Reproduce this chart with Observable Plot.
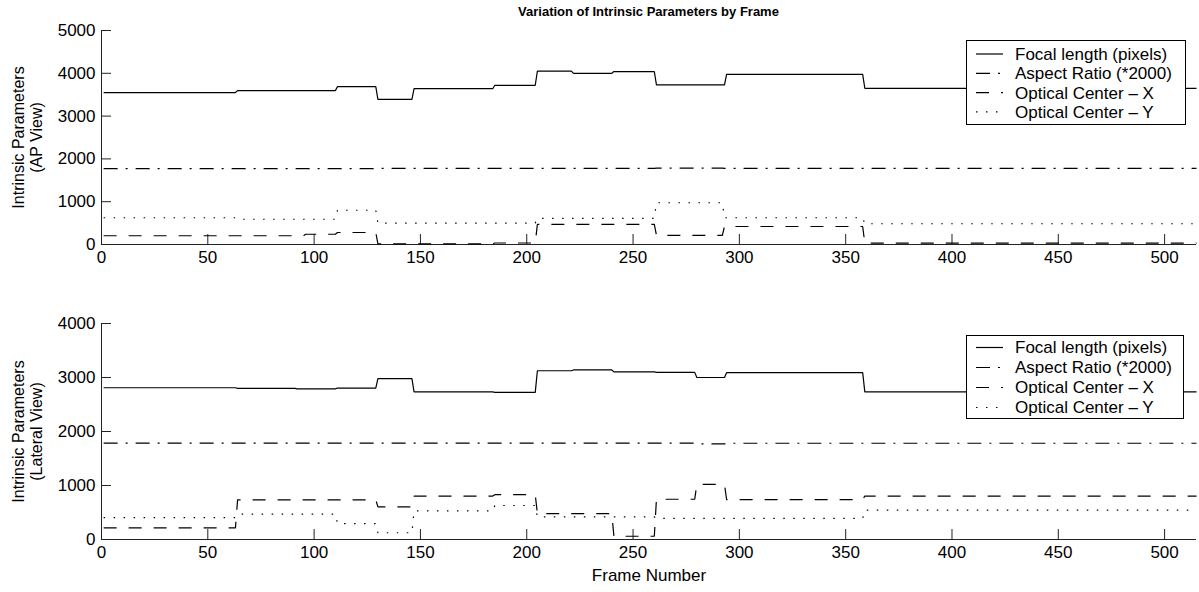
<!DOCTYPE html>
<html><head><meta charset="utf-8">
<script src="https://cdn.jsdelivr.net/npm/d3@7"></script>
<script src="https://cdn.jsdelivr.net/npm/@observablehq/plot@0.6"></script>
<style>
body{margin:0;background:#fff;}
#wrap{position:relative;width:1199px;height:592px;font-family:"Liberation Sans",Arial,Helvetica,sans-serif;color:#000;overflow:hidden;}
#title{position:absolute;left:101px;width:1095px;top:4px;text-align:center;font-weight:bold;font-size:13px;line-height:16px;}
.panel{position:absolute;left:0;}
.legend{position:absolute;left:0;top:0;}
</style></head><body><div id="wrap"><div id="title">Variation of Intrinsic Parameters by Frame</div></div>
<script>
const lastFrame = 515;
const seriesNames = ["Focal length (pixels)", "Aspect Ratio (*2000)", "Optical Center \u2013 X", "Optical Center \u2013 Y"];
const xTicks = [0, 50, 100, 150, 200, 250, 300, 350, 400, 450, 500];
const apYTicks = [0, 1000, 2000, 3000, 4000, 5000];
const latYTicks = [0, 1000, 2000, 3000, 4000];

// AP view (start frame of each constant run, and run value)
const apFocalStart = [1, 64, 111, 130, 147, 185, 205, 222, 241, 261, 294, 359];
const apFocal      = [3550, 3595, 3690, 3390, 3640, 3720, 4050, 4000, 4040, 3730, 3975, 3650];
const apAspectStart = [1, 130, 205, 261, 293];
const apAspect      = [1775, 1778, 1780, 1785, 1778];
const apCxStart = [1, 96, 111, 130, 185, 205, 261, 293, 359];
const apCx      = [205, 240, 280, 15, 35, 470, 215, 420, 30];
const apCyStart = [1, 64, 111, 130, 205, 261, 293, 359];
const apCy      = [625, 590, 800, 500, 610, 975, 625, 485];

// Lateral view
const latFocalStart = [1, 64, 92, 111, 130, 147, 185, 205, 222, 241, 261, 280, 294, 359];
const latFocal      = [2810, 2800, 2790, 2805, 2980, 2735, 2725, 3125, 3140, 3105, 3095, 3000, 3090, 2735];
const latAspectStart = [1, 280, 294];
const latAspect      = [1785, 1770, 1782];
const latCxStart = [1, 64, 130, 147, 185, 205, 241, 261, 280, 294, 359];
const latCx      = [215, 735, 605, 805, 830, 480, 60, 745, 1020, 740, 805];
const latCyStart = [1, 64, 111, 130, 147, 185, 205, 261, 359];
const latCy      = [405, 470, 295, 125, 530, 630, 420, 390, 545];

const dashes = [null, "14,8,2,8", "13,12", "1.5,8.5"];

function steps(starts, values) {
  const pts = [];
  starts.forEach((s, i) => {
    const e = i + 1 < starts.length ? starts[i + 1] - 1 : lastFrame;
    pts.push({frame: s, value: values[i]}, {frame: e, value: values[i]});
  });
  return pts;
}

function panel({series, yMax, yTicks, height, marginTop, marginBottom, ylabel, xlabel}) {
  const marks = [
    Plot.ruleY([0], {stroke: "#222"}),
    Plot.ruleX([0], {stroke: "#222"}),
    Plot.axisX({ticks: xTicks, tickSize: -10, tickPadding: 16, tickFormat: d => String(d), label: null, stroke: "#222"}),
    Plot.axisY({ticks: yTicks, tickSize: -10, tickPadding: 16, tickFormat: d => String(d), label: null, stroke: "#222"}),
    Plot.text([ylabel], {frameAnchor: "left", rotate: -90, dx: -74, text: d => d, textAnchor: "middle", lineAnchor: "middle", lineHeight: 1.1, fontSize: 16})
  ];
  series.forEach((s, i) => {
    marks.push(Plot.line(s, {x: "frame", y: "value", stroke: "#000", strokeWidth: 1.2, strokeDasharray: dashes[i], strokeLinecap: "butt", strokeLinejoin: "miter", curve: "linear"}));
  });
  if (xlabel) marks.push(Plot.text([xlabel], {frameAnchor: "bottom", dy: 36, text: d => d, lineAnchor: "middle", fontSize: 17}));
  return Plot.plot({
    width: 1199, height, marginLeft: 101, marginRight: 3, marginTop, marginBottom,
    style: {fontFamily: "'Liberation Sans', Arial, sans-serif", fontSize: "17px", color: "#000", background: "transparent", overflow: "visible"},
    x: {domain: [0, lastFrame]},
    y: {domain: [0, yMax]},
    marks
  });
}

const wrap = document.getElementById("wrap");

const topPanel = panel({
  series: [steps(apFocalStart, apFocal), steps(apAspectStart, apAspect), steps(apCxStart, apCx), steps(apCyStart, apCy)],
  yMax: 5000, yTicks: apYTicks, height: 270, marginTop: 30, marginBottom: 26,
  ylabel: "Intrinsic Parameters\n(AP View)"
});
topPanel.classList.add("panel"); topPanel.style.top = "0px";
wrap.appendChild(topPanel);

const bottomPanel = panel({
  series: [steps(latFocalStart, latFocal), steps(latAspectStart, latAspect), steps(latCxStart, latCx), steps(latCyStart, latCy)],
  yMax: 4000, yTicks: latYTicks, height: 296, marginTop: 27, marginBottom: 53,
  ylabel: "Intrinsic Parameters\n(Lateral View)", xlabel: "Frame Number"
});
bottomPanel.classList.add("panel"); bottomPanel.style.top = "296px";
wrap.appendChild(bottomPanel);

// Legends
const svg = d3.select(wrap).append("svg").attr("class", "legend").attr("width", 1199).attr("height", 592);
function legend(bx, by, bw, bh, row0, rowStep) {
  const g = svg.append("g");
  g.append("rect").attr("x", bx + 0.5).attr("y", by + 0.5).attr("width", bw).attr("height", bh)
    .attr("fill", "#fff").attr("stroke", "#000").attr("stroke-width", 1);
  seriesNames.forEach((name, i) => {
    const y = row0 + i * rowStep;
    g.append("line").attr("x1", bx + 10).attr("x2", bx + 37).attr("y1", y).attr("y2", y)
      .attr("stroke", "#000").attr("stroke-width", 1.2).attr("stroke-dasharray", dashes[i]);
    g.append("text").attr("x", bx + 49).attr("y", y).attr("dy", "0.35em")
      .attr("font-size", 17).attr("font-family", "'Liberation Sans', Arial, sans-serif").text(name);
  });
}
legend(966, 40, 219, 84, 54, 19.3);
legend(966, 335, 217, 83, 347.5, 20);
</script></body></html>
